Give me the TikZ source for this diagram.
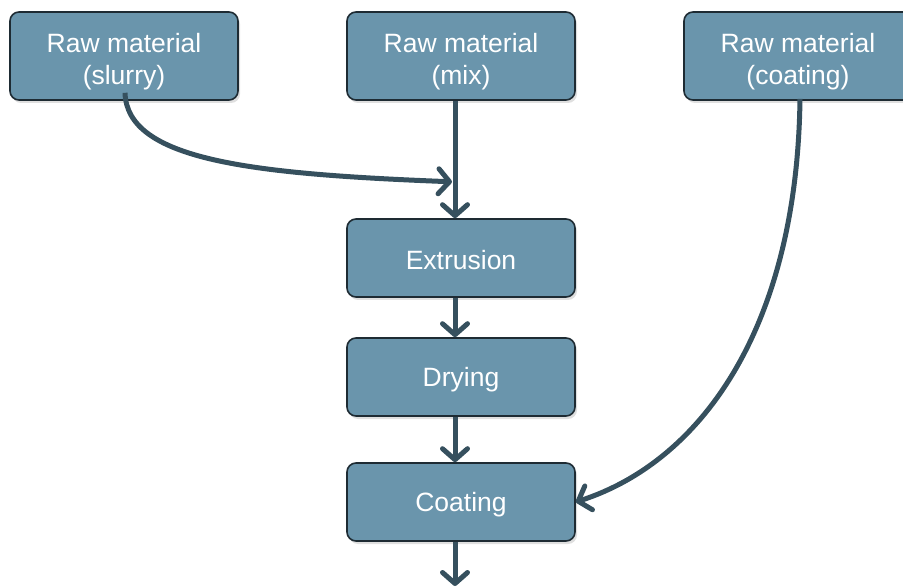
\documentclass[tikz,border=0pt]{standalone}
\usepackage{fontspec}
\setmainfont{Liberation Sans}
\usetikzlibrary{arrows.meta,shadows}

\definecolor{boxfill}{HTML}{6A95AC}
\definecolor{boxline}{HTML}{1E2B33}
\definecolor{flowline}{HTML}{36505E}

\newcommand{\rawtext}[1]{\rule{0pt}{31pt}Raw material\\(#1)}

\begin{document}
\begin{tikzpicture}[x = 1pt, y = -1pt,
	stage/.style = {rectangle, rounded corners = 9pt, fill = boxfill, draw = boxline, line width = 1.6pt, text = white, font = \fontsize{26.5}{32}\selectfont, align = center, minimum width = 228pt, drop shadow = {opacity = 0.25, shadow xshift = 2pt, shadow yshift = -3pt}},
	rawbox/.style = {stage, minimum height = 88pt},
	stepbox/.style = {stage, minimum height = 78pt, execute at begin node = \rule{0pt}{24pt}},
	flow/.style = {line width = 5pt, draw = flowline, -{Straight Barb[length = 11pt, width = 25pt, round]}}]

\useasboundingbox (0, 0) rectangle (903, 588);

%%% Raw materials
\node [rawbox] (slurry) at (124, 56) {\rawtext{slurry}};
\node [rawbox] (mix) at (461, 56) {\rawtext{mix}};
\node [rawbox] (coatraw) at (798, 56) {\rawtext{coating}};

%%% Process steps
\node [stepbox] (extrusion) at (461, 258) {Extrusion};
\node [stepbox] (drying) at (461, 377) {Drying};
\node [stepbox] (coating) at (461, 502) {Coating};

\coordinate (out) at (455, 586);

%%% Arrows
\draw [flow] ([xshift = -6pt] mix.south) -- ([xshift = -6pt] extrusion.north);

\draw [flow] ([shift = {(1pt, 8pt)}] slurry.south) .. controls (127, 160) and (250, 174) .. ([shift = {(-9pt, -81pt)}] mix.south);

\draw [flow] ([shift = {(2pt, 2pt)}] coatraw.south) .. controls (797, 330) and (700, 462) .. (coating.east);

\draw [flow] ([xshift = -6pt] extrusion.south) -- ([xshift = -6pt] drying.north);
\draw [flow] ([xshift = -6pt] drying.south) -- ([xshift = -6pt] coating.north);
\draw [flow] ([xshift = -6pt] coating.south) -- (out);

\end{tikzpicture}
\end{document}
